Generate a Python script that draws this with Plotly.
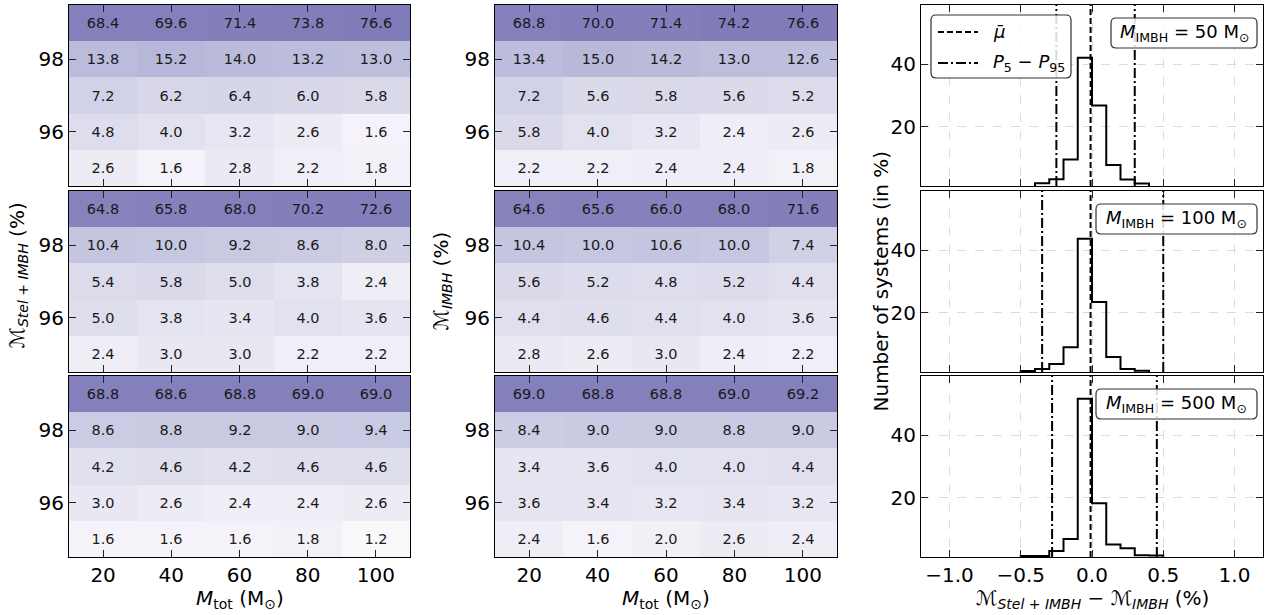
import numpy as np
import plotly.graph_objects as go

W, H = 1272, 615
FONT = "DejaVu Sans"

# ---------------- data ----------------
m_tot = [20, 40, 60, 80, 100]
match_levels = [99, 98, 97, 96, 95]

# heatmaps: rows = match_levels (top -> bottom), cols = m_tot
stel_imbh_50 = [[68.4, 69.6, 71.4, 73.8, 76.6],
                [13.8, 15.2, 14.0, 13.2, 13.0],
                [7.2, 6.2, 6.4, 6.0, 5.8],
                [4.8, 4.0, 3.2, 2.6, 1.6],
                [2.6, 1.6, 2.8, 2.2, 1.8]]
stel_imbh_100 = [[64.8, 65.8, 68.0, 70.2, 72.6],
                 [10.4, 10.0, 9.2, 8.6, 8.0],
                 [5.4, 5.8, 5.0, 3.8, 2.4],
                 [5.0, 3.8, 3.4, 4.0, 3.6],
                 [2.4, 3.0, 3.0, 2.2, 2.2]]
stel_imbh_500 = [[68.8, 68.6, 68.8, 69.0, 69.0],
                 [8.6, 8.8, 9.2, 9.0, 9.4],
                 [4.2, 4.6, 4.2, 4.6, 4.6],
                 [3.0, 2.6, 2.4, 2.4, 2.6],
                 [1.6, 1.6, 1.6, 1.8, 1.2]]
imbh_50 = [[68.8, 70.0, 71.4, 74.2, 76.6],
           [13.4, 15.0, 14.2, 13.0, 12.6],
           [7.2, 5.6, 5.8, 5.6, 5.2],
           [5.8, 4.0, 3.2, 2.4, 2.6],
           [2.2, 2.2, 2.4, 2.4, 1.8]]
imbh_100 = [[64.6, 65.6, 66.0, 68.0, 71.6],
            [10.4, 10.0, 10.6, 10.0, 7.4],
            [5.6, 5.2, 4.8, 5.2, 4.4],
            [4.4, 4.6, 4.4, 4.0, 3.6],
            [2.8, 2.6, 3.0, 2.4, 2.2]]
imbh_500 = [[69.0, 68.8, 68.8, 69.0, 69.2],
            [8.4, 9.0, 9.0, 8.8, 9.0],
            [3.4, 3.6, 4.0, 4.0, 4.4],
            [3.6, 3.4, 3.2, 3.4, 3.2],
            [2.4, 1.6, 2.0, 2.6, 2.4]]

# histograms of the match difference (in %)
hist_edges = [-0.5, -0.4, -0.3, -0.2, -0.1, 0.0, 0.1, 0.2, 0.3, 0.4, 0.5]
hist_50 = [0.0, 1.9, 3.2, 9.5, 42.1, 26.8, 7.7, 3.1, 1.8, 0.0]
hist_100 = [1.3, 2.0, 3.6, 8.9, 43.7, 23.4, 5.8, 2.0, 1.4, 0.0]
hist_500 = [1.3, 1.3, 2.9, 6.8, 51.7, 18.2, 5.0, 3.8, 1.6, 1.5]
mean_vals = [-0.01, -0.01, -0.01]
p5_vals = [-0.25, -0.35, -0.28]
p95_vals = [0.30, 0.50, 0.455]
imbh_masses = [50, 100, 500]

heat_left = [stel_imbh_50, stel_imbh_100, stel_imbh_500]
heat_mid = [imbh_50, imbh_100, imbh_500]
hists = [hist_50, hist_100, hist_500]

# ---------------- layout geometry (pixels) ----------------
col_px = [(69, 410), (495, 837), (921, 1263)]
row_px = [(5, 186), (191, 372), (376, 557)]


def dom_x(a, b):
    return [a / W, b / W]


def dom_y(a, b):
    return [1 - b / H, 1 - a / H]


def px(x):
    return x / W


def py(y):
    return 1 - y / H


def rounded_path(x0, y0, x1, y1, r):
    # pixel coordinates -> paper path with rounded corners
    rx, ry = r / W, r / H
    X0, X1 = px(x0), px(x1)
    Y0, Y1 = py(y0), py(y1)  # Y0 top, Y1 bottom
    return (f"M {X0+rx},{Y0} L {X1-rx},{Y0} Q {X1},{Y0} {X1},{Y0-ry} "
            f"L {X1},{Y1+ry} Q {X1},{Y1} {X1-rx},{Y1} "
            f"L {X0+rx},{Y1} Q {X0},{Y1} {X0},{Y1+ry} "
            f"L {X0},{Y0-ry} Q {X0},{Y0} {X0+rx},{Y0} Z")


fig = go.Figure()
layout = {}
shapes = []
annotations = []

axis_common = dict(showline=True, linecolor="black", linewidth=1.2,
                   mirror="ticks", ticks="inside", ticklen=7, tickwidth=1.2,
                   tickcolor="#222", zeroline=False,
                   tickfont=dict(size=20, family=FONT, color="black"))

for r in range(3):
    for c in range(3):
        idx = r * 3 + c + 1
        xname = "xaxis" if idx == 1 else f"xaxis{idx}"
        yname = "yaxis" if idx == 1 else f"yaxis{idx}"
        xref = "x" if idx == 1 else f"x{idx}"
        yref = "y" if idx == 1 else f"y{idx}"
        xa = dict(axis_common, domain=dom_x(*col_px[c]), anchor=yref)
        ya = dict(axis_common, domain=dom_y(*row_px[r]), anchor=xref)
        if c < 2:
            data = (heat_left if c == 0 else heat_mid)[r]
            z = [[np.log10(v) / 3.0 for v in row] for row in data]
            txt = [[f"{v:.1f}" for v in row] for row in data]
            fig.add_trace(go.Heatmap(
                x=m_tot, y=match_levels, z=z, text=txt,
                texttemplate="%{text}",
                textfont=dict(size=14.5, family=FONT, color="#1a1a1a"),
                colorscale="Purples", zmin=0, zmax=1, showscale=False,
                hoverinfo="skip", xaxis=xref, yaxis=yref))
            xa.update(range=[10, 110], tickvals=m_tot, showgrid=False,
                      showticklabels=(r == 2))
            ya.update(range=[94.5, 99.5], tickvals=[96, 98], showgrid=False)
        else:
            counts = hists[r]
            fig.add_trace(go.Scatter(
                x=[hist_edges[0]] + hist_edges, y=[0] + counts + [0],
                mode="lines", line_shape="hv",
                line=dict(color="black", width=2), showlegend=False,
                hoverinfo="skip", xaxis=xref, yaxis=yref))
            xa.update(range=[-1.2, 1.2], tickvals=[-1.0, -0.5, 0.0, 0.5, 1.0],
                      tickformat=".1f", showgrid=True, gridcolor="#dcdcdc",
                      griddash="dash", gridwidth=1, showticklabels=(r == 2))
            ya.update(range=[1, 59], tickvals=[20, 40], showgrid=True,
                      gridcolor="#dcdcdc", griddash="dash", gridwidth=1)
            for val, dash in ((mean_vals[r], "6px,3px"),
                              (p5_vals[r], "10px,3px,2px,3px"),
                              (p95_vals[r], "10px,3px,2px,3px")):
                shapes.append(dict(type="line", xref=xref, yref=f"{yref} domain",
                                   x0=val, x1=val, y0=0, y1=1, layer="above",
                                   line=dict(color="black", width=2, dash=dash)))
            # label box with the IMBH mass
            top, bot = row_px[r]
            bx0 = 1111 if r == 0 else 1096
            shapes.append(dict(type="path", xref="paper", yref="paper",
                               path=rounded_path(bx0, top + 13, 1257, top + 43, 5),
                               fillcolor="rgba(255,255,255,0.85)",
                               line=dict(color="#333", width=1.2), layer="above"))
            annotations.append(dict(
                x=px((bx0 + 1257) / 2), y=py(top + 28), xref="paper", yref="paper",
                text=f"<i>M</i><sub>IMBH</sub> = {imbh_masses[r]} M<sub>⊙</sub>",
                showarrow=False, xanchor="center", yanchor="middle",
                font=dict(size=18, family=FONT, color="black")))
        layout[xname] = xa
        layout[yname] = ya

# manual legend (top right panel)
shapes.append(dict(type="path", xref="paper", yref="paper",
                   path=rounded_path(931, 15, 1071, 78, 5),
                   fillcolor="rgba(255,255,255,0.85)",
                   line=dict(color="#333", width=1.2), layer="above"))
shapes.append(dict(type="line", xref="paper", yref="paper",
                   x0=px(938), x1=px(978), y0=py(32), y1=py(32), layer="above",
                   line=dict(color="black", width=2, dash="6px,3px")))
shapes.append(dict(type="line", xref="paper", yref="paper",
                   x0=px(938), x1=px(978), y0=py(63), y1=py(63), layer="above",
                   line=dict(color="black", width=2, dash="10px,3px,2px,3px")))
annotations.append(dict(x=px(991), y=py(31), xref="paper", yref="paper",
                        text="<i>μ̄</i>", showarrow=False, xanchor="left",
                        yanchor="middle", font=dict(size=18, family=FONT, color="black")))
annotations.append(dict(x=px(991), y=py(63), xref="paper", yref="paper",
                        text="<i>P</i><sub>5</sub> − <i>P</i><sub>95</sub>",
                        showarrow=False, xanchor="left", yanchor="middle",
                        font=dict(size=18, family=FONT, color="black")))

# axis titles
lab_font = dict(size=20, family=FONT, color="black")
mid_row = (row_px[1][0] + row_px[1][1]) / 2
annotations += [
    dict(x=px(17), y=py(mid_row - 6), xref="paper", yref="paper", textangle=-90,
         text="ℳ<sub><i>Stel + IMBH</i></sub> (%)", showarrow=False,
         xanchor="center", yanchor="middle", font=lab_font),
    dict(x=px(441), y=py(mid_row), xref="paper", yref="paper", textangle=-90,
         text="ℳ<sub><i>IMBH</i></sub> (%)", showarrow=False,
         xanchor="center", yanchor="middle", font=lab_font),
    dict(x=px(880), y=py(mid_row), xref="paper", yref="paper", textangle=-90,
         text="Number of systems (in %)", showarrow=False,
         xanchor="center", yanchor="middle", font=lab_font),
    dict(x=px(sum(col_px[0]) / 2), y=py(599), xref="paper", yref="paper",
         text="<i>M</i><sub>tot</sub> (M<sub>⊙</sub>)", showarrow=False,
         xanchor="center", yanchor="middle", font=lab_font),
    dict(x=px(sum(col_px[1]) / 2), y=py(599), xref="paper", yref="paper",
         text="<i>M</i><sub>tot</sub> (M<sub>⊙</sub>)", showarrow=False,
         xanchor="center", yanchor="middle", font=lab_font),
    dict(x=px(sum(col_px[2]) / 2), y=py(599), xref="paper", yref="paper",
         text="ℳ<sub><i>Stel + IMBH</i></sub> − ℳ<sub><i>IMBH</i></sub> (%)",
         showarrow=False, xanchor="center", yanchor="middle", font=lab_font),
]

fig.update_layout(width=W, height=H, margin=dict(l=0, r=0, t=0, b=0),
                  paper_bgcolor="white", plot_bgcolor="white",
                  showlegend=False, shapes=shapes, annotations=annotations,
                  font=dict(family=FONT), **layout)

fig.write_html("out.html", config={"displayModeBar": False},
               post_script="document.body.style.margin='0';"
                           "document.body.style.overflow='hidden';")
